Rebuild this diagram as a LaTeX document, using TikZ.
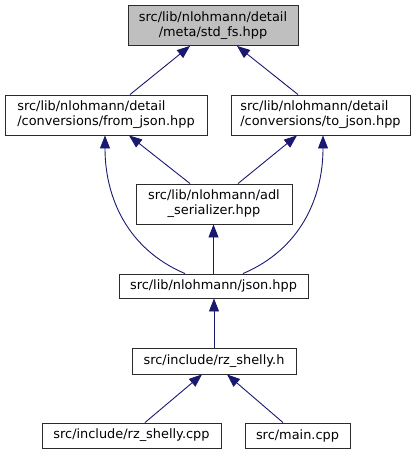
\documentclass[tikz,border=0pt]{standalone}
\usepackage{fontspec}
\setmainfont{DejaVu Sans}
\usepackage{xcolor}
\usepackage{tikz}
\usetikzlibrary{arrows.meta,calc}
\definecolor{EdgeBlue}{HTML}{191970}
\definecolor{RootFill}{HTML}{BFBFBF}
\definecolor{Frame}{HTML}{2B2B2B}

\begin{document}
\begin{tikzpicture}[x=1pt,y=-1pt, every node/.style={font=\fontsize{12.9}{15}\selectfont,inner sep=0pt}, file/.style={draw=Frame,line width=0.9pt,fill=white,minimum height=25pt}, file2/.style={file,minimum height=40pt}, root/.style={file2,fill=RootFill}, edge/.style={-{Triangle[length=13pt,width=10pt]},line width=0.9pt,draw=EdgeBlue}]
\useasboundingbox (0,0) rectangle (419,455);
\node[root,minimum width=170pt,align=center] (stdfs) at (213,25.5) {src/lib/nlohmann/detail\\/meta/std\_fs.hpp};
\node[file2,minimum width=202pt,align=left] (fromjson) at (106,115) {src/lib/nlohmann/detail\\/conversions/from\_json.hpp};
\node[file2,minimum width=179pt,align=left] (tojson) at (320.5,115) {src/lib/nlohmann/detail\\/conversions/to\_json.hpp};
\node[file2,minimum width=156pt,align=center] (adl) at (214,204) {src/lib/nlohmann/adl\\\_serializer.hpp};
\node[file,minimum width=189pt,minimum height=24pt] (json) at (213.5,286) {src/lib/nlohmann/json.hpp};
\node[file,minimum width=164pt,minimum height=26pt] (rzh) at (214,361) {src/include/rz\_shelly.h};
\node[file,minimum width=179pt] (rzcpp) at (131.5,435.5) {src/include/rz\_shelly.cpp};
\node[file,minimum width=105pt] (mainc) at (297.5,435.5) {src/main.cpp};
% include edges, child -> parent
\draw[edge] ($(fromjson.north)+(24,0)$) -- ($(stdfs.south)+(-23,0)$);
\draw[edge] ($(tojson.north)+(-22.5,0)$) -- ($(stdfs.south)+(24,0)$);
\draw[edge] ($(adl.north)+(-24,0)$) -- ($(fromjson.south)+(23,0)$);
\draw[edge] ($(adl.north)+(24,0)$) -- ($(tojson.south)+(-23.5,0)$);
\draw[edge] ($(json.north)+(-28.5,0)$) to[out=157,in=-90] ($(fromjson.south)+(-1,0)$);
\draw[edge] ($(json.north)+(29.5,0)$) to[out=23,in=-90] ($(tojson.south)+(2.5,0)$);
\draw[edge] (json.north) -- (json.north |- adl.south);
\draw[edge] (rzh.north) -- (rzh.north |- json.south);
\draw[edge] ($(rzcpp.north)+(13.5,0)$) -- ($(rzh.south)+(-12,0)$);
\draw[edge] ($(mainc.north)+(-14.5,0)$) -- ($(rzh.south)+(13,0)$);
\end{tikzpicture}
\end{document}
